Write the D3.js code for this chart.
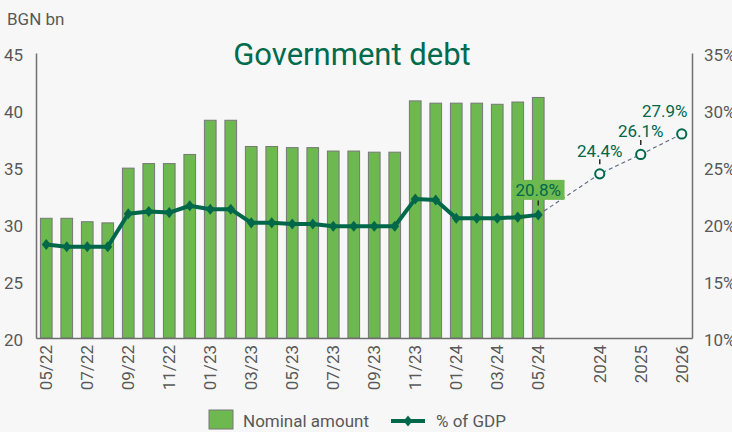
<!DOCTYPE html>
<html>
<head>
<meta charset="utf-8">
<script src="https://cdn.jsdelivr.net/npm/d3@7"></script>
<style>
  html, body { margin: 0; padding: 0; background: #f7f7f7; }
  svg { display: block; font-family: Roboto, "Noto Sans", sans-serif; }
</style>
</head>
<body>
<svg id="chart" width="732" height="432"></svg>
<script>
// Monthly observations
const months = ["05/22","06/22","07/22","08/22","09/22","10/22","11/22","12/22",
                "01/23","02/23","03/23","04/23","05/23","06/23","07/23","08/23",
                "09/23","10/23","11/23","12/23","01/24","02/24","03/24","04/24","05/24"];
// Government debt, BGN bn
const nominal = [30.5,30.5,30.2,30.1,34.9,35.3,35.3,36.1,39.1,39.1,36.8,36.8,36.7,
                 36.7,36.4,36.4,36.3,36.3,40.8,40.6,40.6,40.6,40.5,40.7,41.1];
// Government debt, % of GDP
const gdpShare = [18.2,18.0,18.0,18.0,20.9,21.1,21.0,21.6,21.3,21.3,20.1,20.1,20.0,
                  20.0,19.8,19.8,19.8,19.8,22.2,22.1,20.5,20.5,20.5,20.6,20.8];
// Projections, % of GDP
const years = ["2024","2025","2026"];
const forecast = [24.4, 26.1, 27.9];
// Axis ticks
const leftTicks = [20,25,30,35,40,45];
const rightTicks = [10,15,20,25,30,35];
const monthTickEvery = 2;

const svg = d3.select("#chart");
const plot = { left: 36, right: 692, top: 53, bottom: 338 };
const col = {
  bar: "#6db84f", barStroke: "#777777", line: "#00684a", axis: "#6f6f6f",
  text: "#595959", dash: "#5a6a82", tick: "#2b2b2b", bg: "#f7f7f7"
};

// Slot layout: one slot per month, a two-slot gap, then years every other slot
const yearSlot = j => months.length + 2 + 2 * j;
const nSlots = yearSlot(years.length - 1) + 1;

const x = d3.scaleBand().domain(d3.range(nSlots))
  .range([plot.left, plot.right]).paddingInner(0.43).paddingOuter(0.215);
const cx = s => x(s) + x.bandwidth() / 2;
const yL = d3.scaleLinear().domain([20, 45]).range([plot.bottom, plot.top]);
const yR = d3.scaleLinear().domain([10, 35]).range([plot.bottom, plot.top]);

// Bars
svg.append("g").selectAll("rect").data(nominal).join("rect")
  .attr("x", (d, i) => x(i))
  .attr("y", d => yL(d))
  .attr("width", x.bandwidth())
  .attr("height", d => yL(20) - yL(d))
  .attr("fill", col.bar)
  .attr("stroke", col.barStroke)
  .attr("stroke-width", 1);

// Axes
function styleAxis(g) {
  g.select(".domain").attr("stroke", col.axis).attr("stroke-width", 1.5);
  g.selectAll(".tick line").remove();
  g.selectAll("text").attr("fill", col.text).attr("font-size", 17)
    .attr("font-family", "Roboto, sans-serif");
}
svg.append("g").attr("transform", `translate(${plot.left},0)`)
  .call(d3.axisLeft(yL).tickValues(leftTicks).tickSize(0).tickSizeOuter(0).tickPadding(13))
  .call(styleAxis)
  .selectAll("text").attr("dy", "0.42em");

svg.append("g").attr("transform", `translate(${plot.right},0)`)
  .call(d3.axisRight(yR).tickValues(rightTicks).tickSize(0).tickSizeOuter(0).tickPadding(12)
    .tickFormat(d => d + "%"))
  .call(styleAxis)
  .selectAll("text").attr("dy", "0.42em");

const bottomTicks = d3.range(0, months.length, monthTickEvery)
  .concat(years.map((y, j) => yearSlot(j)));
const slotLabel = s => s < months.length ? months[s] : years[(s - months.length - 2) / 2];
svg.append("g").attr("transform", `translate(0,${plot.bottom})`)
  .call(d3.axisBottom(x).tickValues(bottomTicks).tickSize(0).tickSizeOuter(0).tickFormat(slotLabel))
  .call(styleAxis)
  .selectAll("text")
  .attr("transform", "rotate(-90)")
  .attr("text-anchor", "end")
  .attr("x", -7).attr("y", 0).attr("dy", "0.36em");

// Dashed projection path from the latest observation
const lastIdx = months.length - 1;
const proj = [{ s: lastIdx, v: gdpShare[lastIdx] }]
  .concat(forecast.map((v, j) => ({ s: yearSlot(j), v })));
svg.append("path").datum(proj)
  .attr("fill", "none").attr("stroke", col.dash).attr("stroke-width", 1.1)
  .attr("stroke-dasharray", "4,3")
  .attr("d", d3.line().x(d => cx(d.s)).y(d => yR(d.v)));

// Debt / GDP line
svg.append("path").datum(gdpShare)
  .attr("fill", "none").attr("stroke", col.line).attr("stroke-width", 4)
  .attr("stroke-linejoin", "round")
  .attr("d", d3.line().x((d, i) => cx(i)).y(d => yR(d)));

// Tall diamond marker
const tallDiamond = {
  draw(ctx, size) {
    const h = Math.sqrt(size) * 0.62, w = h * 0.8;
    ctx.moveTo(0, -h); ctx.lineTo(w, 0); ctx.lineTo(0, h); ctx.lineTo(-w, 0); ctx.closePath();
  }
};
const diamond = d3.symbol().type(tallDiamond).size(80);
svg.append("g").selectAll("path").data(gdpShare).join("path")
  .attr("d", diamond)
  .attr("transform", (d, i) => `translate(${cx(i)},${yR(d)})`)
  .attr("fill", col.line);

// Projection markers
svg.append("g").selectAll("circle").data(forecast).join("circle")
  .attr("cx", (d, j) => cx(yearSlot(j)))
  .attr("cy", d => yR(d))
  .attr("r", 4.6)
  .attr("fill", col.bg).attr("stroke", col.line).attr("stroke-width", 2);

// Value callouts
const fmt = v => d3.format(".1f")(v) + "%";
const callouts = [{ s: lastIdx, v: gdpShare[lastIdx], boxed: true }]
  .concat(forecast.map((v, j) => ({ s: yearSlot(j), v, boxed: false,
                                     last: j === forecast.length - 1 })));
const cg = svg.append("g");
callouts.forEach(c => {
  const px = cx(c.s), py = yR(c.v);
  const tx = c.last ? px - 17 : px;
  const baseY = c.boxed ? py - 19 : py - 17;
  if (!c.last) {
    cg.append("line").attr("x1", px).attr("x2", px)
      .attr("y1", py - 14.5).attr("y2", py - 9.5)
      .attr("stroke", col.tick).attr("stroke-width", 1.5);
  }
  const box = c.boxed ? cg.append("rect") : null;
  const t = cg.append("text").attr("x", tx).attr("y", baseY)
    .attr("text-anchor", "middle").attr("font-size", 17).attr("fill", col.line)
    .text(fmt(c.v));
  if (box) {
    const w = t.node().getComputedTextLength() + 7;
    box.attr("x", tx - w / 2).attr("y", py - 35).attr("width", w).attr("height", 20)
      .attr("fill", col.bar);
  }
});

// Title and unit
svg.append("text").attr("x", 352).attr("y", 65).attr("text-anchor", "middle")
  .attr("font-size", 31).attr("fill", "#006b4d").text("Government debt");
svg.append("text").attr("x", 7).attr("y", 25)
  .attr("font-size", 17).attr("fill", col.text).text("BGN bn");

// Legend
const lg = svg.append("g");
lg.append("rect").attr("x", 209).attr("y", 410).attr("width", 24).attr("height", 19)
  .attr("fill", col.bar).attr("stroke", col.barStroke).attr("stroke-width", 1);
lg.append("text").attr("x", 243).attr("y", 427).attr("font-size", 17)
  .attr("fill", col.text).text("Nominal amount");
lg.append("line").attr("x1", 391).attr("x2", 425).attr("y1", 421).attr("y2", 421)
  .attr("stroke", col.line).attr("stroke-width", 4);
lg.append("path").attr("d", diamond).attr("transform", "translate(408,421)")
  .attr("fill", col.line);
lg.append("text").attr("x", 436).attr("y", 427).attr("font-size", 17)
  .attr("fill", col.text).text("% of GDP");
</script>
</body>
</html>
